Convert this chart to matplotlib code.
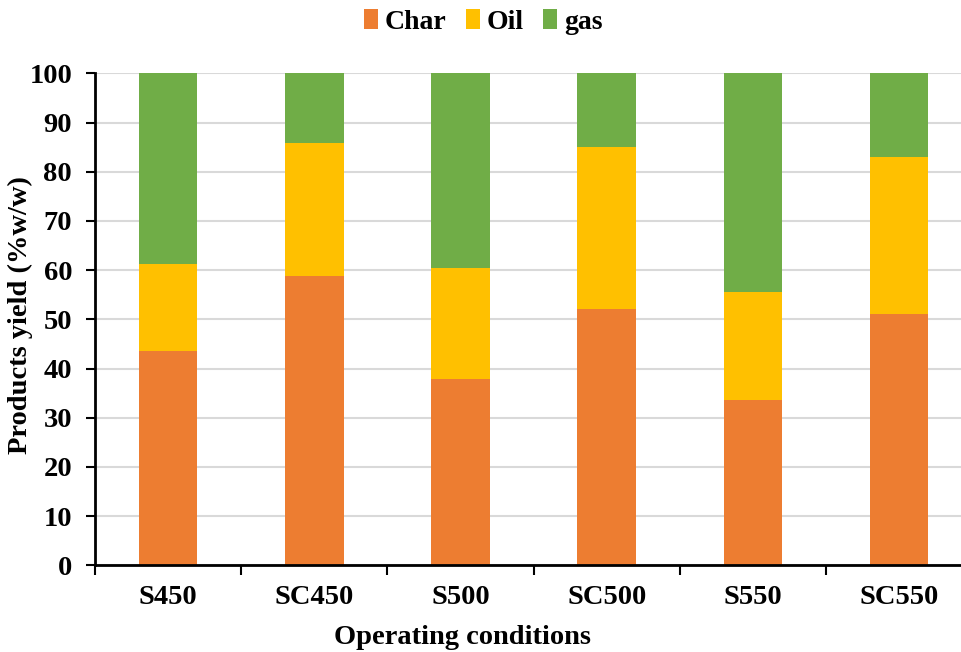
import matplotlib.pyplot as plt
import numpy as np

plt.rcParams['font.family'] = ['Liberation Serif', 'DejaVu Serif']
plt.rcParams['font.weight'] = 'bold'

conditions = ['S450', 'SC450', 'S500', 'SC500', 'S550', 'SC550']
char = [43.6, 58.7, 37.9, 52.0, 33.5, 51.1]
oil = [17.6, 27.1, 22.5, 33.1, 22.0, 31.9]
gas = [38.8, 14.2, 39.6, 14.9, 44.5, 17.0]

colors = {'Char': '#ED7D31', 'Oil': '#FFC000', 'gas': '#70AD47'}

fig = plt.figure(figsize=(9.61, 6.52), dpi=100)
ax = fig.add_axes([95 / 961, 1 - 565.3 / 652, 1 - 95 / 961, (565.3 - 73.3) / 652])

x = np.arange(len(conditions))
w = 0.40
bottom = np.zeros(len(conditions))
for name, vals in (('Char', char), ('Oil', oil), ('gas', gas)):
	ax.bar(x, vals, w, bottom=bottom, color=colors[name], label=name, zorder=3)
	bottom += np.array(vals)

ax.set_yticks(np.arange(0, 101, 10))
ax.yaxis.grid(True, color='#d9d9d9', linewidth=1.5, zorder=0)
ax.set_axisbelow(True)

ax.set_xticks(x)
ax.set_xticklabels(conditions, fontsize=20.5, fontweight='bold')
ax.set_xticks(np.arange(-0.5, 5.6, 1), minor=True)
ax.tick_params(axis='x', which='major', length=0, pad=14)
ax.tick_params(axis='x', which='minor', length=7, width=1.5, direction='out')
ax.tick_params(axis='y', length=6.5, width=1.5, pad=10, labelsize=20.5)
for lbl in ax.get_yticklabels():
	lbl.set_fontweight('bold')

ax.set_ylim(0, 100)
ax.set_xlim(-0.5, (961 - 95) / 146.2 - 0.5)

for s in ('top', 'right'):
	ax.spines[s].set_visible(False)
ax.spines['left'].set_linewidth(2)
ax.spines['bottom'].set_linewidth(2)
ax.spines['bottom'].set_zorder(4)

fig.text(20 / 961, 1 - 315 / 652, 'Products yield (%w/w)', rotation=90, fontsize=20.5,
	fontweight='bold', ha='center', va='center')
fig.text(463 / 961, 1 - 638 / 652, 'Operating conditions', fontsize=20.5,
	fontweight='bold', ha='center', va='center')

fig.legend(loc='center', bbox_to_anchor=(483 / 961, 1 - 22 / 652), ncol=3, frameon=False,
	handlelength=0.5, handleheight=0.7, handletextpad=0.25, columnspacing=0.7,
	prop={'size': 20, 'weight': 'bold'})

plt.savefig('out.png', dpi=100)
